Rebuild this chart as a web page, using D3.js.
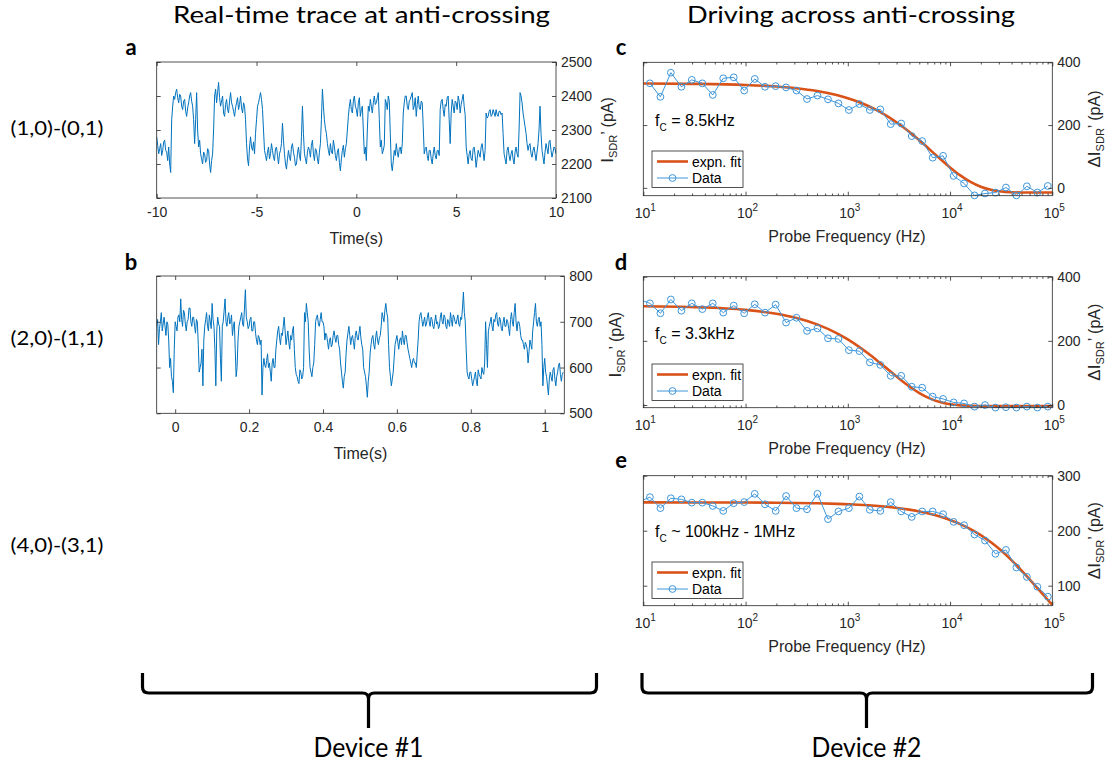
<!DOCTYPE html>
<html><head><meta charset="utf-8">
<script src="https://cdn.jsdelivr.net/npm/d3@7"></script>
<style>body{margin:0;background:#fff}svg{display:block}</style>
</head><body>
<script>
// ---------------- DATA ----------------
// Panel a: real-time trace, sampled every 0.05 s from -10 s (one row = 1 s)
const traceA_t0 = -10, traceA_dt = 0.05;
const traceA = [
2280,2255,2230,2245,2260,2225,2240,2265,2270,2240,2235,2210,2250,2200,2175,2330,2370,2400,2390,2410,
2420,2395,2380,2405,2400,2370,2360,2385,2390,2355,2340,2365,2380,2400,2410,2385,2370,2330,2260,2330,
2410,2300,2250,2270,2230,2215,2200,2235,2230,2205,2210,2245,2240,2200,2175,2210,2230,2300,2400,2420,
2380,2410,2440,2395,2370,2385,2400,2350,2340,2375,2390,2360,2350,2385,2410,2380,2370,2355,2340,2365,
2380,2395,2360,2375,2400,2365,2350,2380,2370,2330,2260,2215,2195,2250,2280,2250,2240,2265,2230,2290,
2330,2370,2380,2395,2410,2390,2360,2300,2240,2225,2210,2235,2250,2215,2230,2260,2240,2220,2210,2245,
2250,2225,2200,2230,2240,2260,2320,2270,2230,2200,2185,2215,2240,2220,2210,2250,2260,2235,2220,2195,
2200,2230,2250,2225,2210,2280,2370,2290,2230,2215,2200,2235,2250,2240,2220,2255,2270,2230,2210,2245,
2240,2215,2200,2235,2260,2330,2420,2370,2330,2305,2290,2260,2240,2225,2260,2235,2230,2270,2250,2225,
2210,2235,2245,2205,2180,2215,2240,2255,2220,2245,2260,2300,2340,2370,2390,2360,2350,2385,2400,2370,
2360,2340,2380,2395,2340,2360,2370,2300,2230,2250,2210,2300,2370,2355,2390,2370,2350,2380,2400,2375,
2380,2395,2410,2330,2250,2270,2230,2240,2255,2390,2380,2360,2400,2385,2290,2200,2180,2210,2240,2225,
2260,2235,2220,2245,2250,2230,2260,2350,2380,2400,2400,2370,2360,2385,2390,2400,2410,2360,2370,2395,
2340,2375,2400,2365,2360,2385,2380,2310,2230,2245,2250,2225,2210,2240,2240,2215,2200,2230,2250,2225,
2215,2240,2240,2225,2360,2385,2390,2360,2340,2375,2370,2395,2400,2330,2260,2350,2390,2370,2350,2385,
2380,2360,2400,2385,2350,2375,2390,2405,2370,2345,2250,2225,2200,2230,2240,2215,2210,2245,2250,2225,
2190,2215,2240,2230,2220,2250,2260,2235,2210,2240,2350,2335,2340,2355,2360,2340,2345,2360,2350,2340,
2360,2345,2340,2355,2355,2345,2350,2290,2230,2215,2200,2240,2250,2225,2210,2230,2240,2215,2200,2235,
2250,2230,2220,2300,2410,2400,2380,2350,2330,2310,2290,2260,2240,2255,2260,2230,2220,2240,2250,2230,
2210,2235,2260,2300,2370,2290,2240,2220,2200,2235,2260,2245,2230,2265,2270,2240,2220,2235,2250,2245,
2230];
// Panel b: real-time trace, sampled every 0.0025 s from -0.05 s (one row = 0.05 s)
const traceB_t0 = -0.05, traceB_dt = 0.0025;
const traceB = [
690,705,650,685,700,720,680,695,710,690,670,700,695,660,600,620,580,570,545,640,
700,690,680,710,715,700,750,705,690,725,720,695,680,700,705,730,730,700,690,710,
710,690,675,705,700,650,590,600,610,640,560,660,690,705,720,690,680,715,700,685,
740,705,690,640,560,680,710,695,690,620,570,690,700,725,750,700,690,710,720,695,
700,715,670,690,700,640,580,600,660,690,700,710,720,695,690,730,770,710,700,685,
690,705,710,680,680,700,700,675,660,650,670,665,650,660,540,600,620,605,600,615,
630,600,610,590,570,610,620,600,600,640,660,680,690,665,650,675,670,690,710,680,
650,665,680,655,640,670,660,680,690,640,600,585,580,570,565,595,590,575,580,600,
720,700,740,720,700,640,600,590,580,600,610,650,700,710,715,695,690,705,720,700,
700,690,660,675,670,655,640,660,665,645,650,670,680,665,655,670,670,650,640,610,
590,570,555,580,590,630,660,675,690,670,650,665,670,655,640,670,680,665,660,675,
690,665,650,640,600,590,580,560,535,570,590,630,650,665,670,650,640,665,680,660,
650,665,670,690,720,710,700,725,740,720,710,650,600,580,560,575,590,620,650,660,
670,655,640,660,665,650,680,660,650,670,670,655,640,630,620,610,600,615,620,610,
610,600,630,660,700,715,720,705,690,700,710,690,695,710,720,700,690,710,705,690,
685,700,715,695,700,685,690,710,720,700,695,715,710,690,685,705,700,690,720,705,
690,715,710,700,695,705,715,695,690,710,705,730,765,720,700,640,590,580,575,590,
590,575,560,570,580,590,570,560,595,585,580,575,600,590,585,610,700,650,600,680,
690,700,710,690,680,705,700,715,720,695,690,710,705,685,680,700,710,690,690,705,
700,685,670,705,720,700,690,720,740,700,680,700,700,690,670,660,660,650,640,655,
650,640,610,635,660,650,640,680,700,720,740,700,690,705,710,690,700,650,560,600,
620,590,580,560,540,575,590,580,570,595,600,575,560,580,590,605,610,585,570,585,
590];
const timeTicksA = [-10, -5, 0, 5, 10];
const currentTicksA = [2100, 2200, 2300, 2400, 2500];
const timeTicksB = [0, 0.2, 0.4, 0.6, 0.8, 1];
const currentTicksB = [500, 600, 700, 800];

// Panels c-e: probe frequency sweep (Hz)
const probeFreq = [11.6,14.7,18.6,23.6,29.8,37.8,47.8,60.5,76.6,97,
  123,155,197,249,315,399,505,640,810,1025,
  1298,1642,2080,2630,3330,4220,5340,6760,8550,10830,
  13710,17350,21970,27800,35200,44570,56400,71400,90400];
const probeFreqLead = 9.2; // point just left of the axis in d and e
const dataC = [333,290,367,322,344,333,296,349,352,310,
  347,322,324,320,310,283,294,282,269,248,
  267,248,250,203,205,165,149,96,102,38,
  14,-24,-18,-15,1,-24,5,-15,6];
const dataD = [329,317,286,329,294,317,299,317,288,310,
  286,314,288,313,257,272,231,239,208,206,
  171,168,133,125,91,91,57,54,26,19,
  8,5,-5,0,-8,-7,-8,-5,-8,-5];
const dataE = [253,261,241,259,257,251,251,245,236,250,
  252,267,248,236,263,241,239,267,221,235,
  241,262,238,236,252,235,225,235,235,230,
  216,210,193,182,158,165,133,116,98,80];
// fitted curves read at these frequencies
const fitFreq = [10,31.6,100,200,316,501,794,1000,1259,1585,1995,2512,3162,3981,
  5012,6310,7943,10000,12589,15849,19953,25119,31623,39811,50119,63096,79433,100000];
const fitC = [332.5,331.4,327.9,322.9,317.2,308.3,294.7,285.4,274.2,260.6,244.5,225.5,203.6,178.8,
  151.5,122.6,93.2,65.0,39.6,18.8,3.5,-6.3,-11.7,-14.0,-14.8,-15,-15,-15];
const fitD = [307.7,305.0,296.5,284.5,271.2,251.3,222.6,204.4,183.6,160.4,135.2,108.9,82.8,58.5,
  37.3,20.7,9.2,2.3,-1.2,-2.5,-2.9,-3,-3,-3,-3,-3,-3,-3];
const fitE = [251.5,251.4,251.2,250.8,250.4,249.8,248.8,248.1,247.3,246.2,244.8,243.1,240.9,238.3,
  234.9,230.9,225.8,219.6,212.0,202.9,192.0,179.0,163.9,146.6,127.5,107.0,85.8,64.9];
const freqTicks = [10, 100, 1000, 10000, 100000];
const dITicksC = [0, 200, 400];
const dITicksD = [0, 200, 400];
const dITicksE = [100, 200, 300];
const fcLabels = ["= 8.5kHz", "= 3.3kHz", "~ 100kHz - 1MHz"];
const legendLabels = ["expn. fit", "Data"];
const titles = ["Real-time trace at anti-crossing", "Driving across anti-crossing"];
const rowLabels = ["(1,0)-(0,1)", "(2,0)-(1,1)", "(4,0)-(3,1)"];
const deviceLabels = ["Device #1", "Device #2"];
const panelLetters = ["a", "b", "c", "d", "e"];

// ---------------- DRAWING ----------------
const AX = '#262626', TRACE = '#0072BD', DATA = '#3E96DA', FIT = '#D95319';
const SANS = '"Liberation Sans", Arial, Helvetica, sans-serif';
const CAL = 'Lato, "Open Sans", sans-serif';
const svg = d3.select('body').append('svg').attr('width', 1113).attr('height', 765);
const defs = svg.append('defs');
let clipN = 0;
function clipRect(x0, y0, w, h) {
  const id = 'cl' + (clipN++);
  defs.append('clipPath').attr('id', id).append('rect').attr('x', x0).attr('y', y0).attr('width', w).attr('height', h);
  return `url(#${id})`;
}
function styleAxis(g) {
  g.attr('font-family', SANS).attr('font-size', 14);
  g.select('.domain').remove();
  g.selectAll('line').attr('stroke', AX).attr('stroke-width', 0.8);
  g.selectAll('text').attr('fill', AX);
}
function frame(x, y) {
  const [x0, x1] = x.range(), [yb, yt] = y.range();
  svg.append('rect').attr('x', x0).attr('y', yt).attr('width', x1 - x0).attr('height', yb - yt)
    .attr('fill', 'none').attr('stroke', AX).attr('stroke-width', 0.8);
}
function yLabel(xpos, ycen, delta) {
  const t = svg.append('text').attr('transform', `translate(${xpos},${ycen}) rotate(-90)`)
    .attr('text-anchor', 'middle').attr('font-family', SANS).attr('font-size', 16).attr('fill', AX);
  t.append('tspan').attr('font-size', 17).text(delta ? '\u0394I' : 'I');
  t.append('tspan').attr('font-size', 11).attr('dy', 4).text('SDR');
  t.append('tspan').attr('dy', -4).text('\u2019 (pA)');
}
function xLabel(txt, xcen, ybase) {
  svg.append('text').attr('x', xcen).attr('y', ybase).attr('text-anchor', 'middle')
    .attr('font-family', SANS).attr('font-size', 16).attr('fill', AX).text(txt);
}

function tracePanel(vals, t0, dt, xd, xr, yd, yr, xt, yt) {
  const x = d3.scaleLinear(xd, xr), y = d3.scaleLinear(yd, yr);
  svg.append('path').datum(vals)
    .attr('clip-path', clipRect(xr[0], yr[1], xr[1] - xr[0], yr[0] - yr[1]))
    .attr('d', d3.line().x((d, i) => x(t0 + i * dt)).y(d => y(d)))
    .attr('fill', 'none').attr('stroke', TRACE).attr('stroke-width', 1).attr('stroke-linejoin', 'round');
  svg.append('g').attr('transform', `translate(0,${yr[0]})`)
    .call(d3.axisBottom(x).tickValues(xt).tickSize(-4).tickPadding(9).tickFormat(d => String(d))).call(styleAxis);
  svg.append('g').attr('transform', `translate(0,${yr[1]})`)
    .call(d3.axisTop(x).tickValues(xt).tickSize(-4).tickFormat('')).call(styleAxis);
  svg.append('g').attr('transform', `translate(${xr[1]},0)`)
    .call(d3.axisRight(y).tickValues(yt).tickSize(-4).tickPadding(5).tickFormat(d => String(d))).call(styleAxis);
  svg.append('g').attr('transform', `translate(${xr[0]},0)`)
    .call(d3.axisLeft(y).tickValues(yt).tickSize(-4).tickFormat('')).call(styleAxis);
  frame(x, y);
  yLabel(xr[1] + 57, (yr[0] + yr[1]) / 2, false);
  xLabel('Time(s)', (xr[0] + xr[1]) / 2, yr[0] + 46);
}

function freqPanel(freqs, vals, fitV, yd, yr, yt, fcText, legY) {
  const xr = [643.3, 1052.3];
  const x = d3.scaleLog([10, 1e5], xr), y = d3.scaleLinear(yd, yr);
  const cp = clipRect(xr[0], yr[1], xr[1] - xr[0], yr[0] - yr[1]);
  const pts = freqs.map((f, i) => [f, vals[i]]);
  svg.append('path').datum(fitFreq.map((f, i) => [f, fitV[i]])).attr('clip-path', cp)
    .attr('d', d3.line().x(d => x(d[0])).y(d => y(d[1])).curve(d3.curveMonotoneX))
    .attr('fill', 'none').attr('stroke', FIT).attr('stroke-width', 2.6);
  const dg = svg.append('g').attr('clip-path', clipRect(xr[0], yr[1] - 6, xr[1] - xr[0] + 6, yr[0] - yr[1] + 12));
  dg.append('path').datum(pts).attr('d', d3.line().x(d => x(d[0])).y(d => y(d[1])))
    .attr('fill', 'none').attr('stroke', DATA).attr('stroke-width', 1);
  dg.selectAll('circle').data(pts.filter(d => d[0] >= 10)).join('circle')
    .attr('cx', d => x(d[0])).attr('cy', d => y(d[1])).attr('r', 3.4)
    .attr('fill', 'none').attr('stroke', DATA).attr('stroke-width', 1);
  const minors = [];
  for (let k = 1; k < 5; k++) for (let m = 2; m < 10; m++) minors.push(m * Math.pow(10, k));
  svg.append('g').attr('transform', `translate(0,${yr[0]})`)
    .call(d3.axisBottom(x).tickValues(freqTicks).tickSize(-4).tickFormat('')).call(styleAxis);
  svg.append('g').attr('transform', `translate(0,${yr[0]})`)
    .call(d3.axisBottom(x).tickValues(minors).tickSize(-2.2).tickFormat('')).call(styleAxis);
  svg.append('g').attr('transform', `translate(0,${yr[1]})`)
    .call(d3.axisTop(x).tickValues(freqTicks).tickSize(-4).tickFormat('')).call(styleAxis);
  svg.append('g').attr('transform', `translate(0,${yr[1]})`)
    .call(d3.axisTop(x).tickValues(minors).tickSize(-2.2).tickFormat('')).call(styleAxis);
  svg.append('g').attr('transform', `translate(${xr[1]},0)`)
    .call(d3.axisRight(y).tickValues(yt).tickSize(-4).tickPadding(5).tickFormat(d => String(d))).call(styleAxis);
  svg.append('g').attr('transform', `translate(${xr[0]},0)`)
    .call(d3.axisLeft(y).tickValues(yt).tickSize(-4).tickFormat('')).call(styleAxis);
  freqTicks.forEach(v => {
    const t = svg.append('text').attr('x', x(v) + 2).attr('y', yr[0] + 22).attr('text-anchor', 'middle')
      .attr('font-family', SANS).attr('font-size', 14).attr('fill', AX);
    t.append('tspan').text('10');
    t.append('tspan').attr('font-size', 10).attr('dy', -7).text(String(Math.round(Math.log10(v))));
  });
  frame(x, y);
  yLabel(xr[1] + 48, (yr[0] + yr[1]) / 2, true);
  xLabel('Probe Frequency (Hz)', 847, yr[0] + 46);
  const ft = svg.append('text').attr('x', 655).attr('y', legY - 25).attr('font-family', SANS)
    .attr('font-size', 16).attr('fill', '#000');
  ft.append('tspan').text('f');
  ft.append('tspan').attr('font-size', 10).attr('dy', 5).text('C');
  ft.append('tspan').attr('dy', -5).text(' ' + fcText);
  const lg = svg.append('g').attr('transform', `translate(652,${legY})`);
  lg.append('rect').attr('width', 91).attr('height', 36.5).attr('fill', '#fff').attr('stroke', AX).attr('stroke-width', 0.8);
  lg.append('line').attr('x1', 5).attr('x2', 36).attr('y1', 10.5).attr('y2', 10.5).attr('stroke', FIT).attr('stroke-width', 2.6);
  lg.append('line').attr('x1', 5).attr('x2', 36).attr('y1', 27).attr('y2', 27).attr('stroke', DATA).attr('stroke-width', 1);
  lg.append('circle').attr('cx', 20.5).attr('cy', 27).attr('r', 3.4).attr('fill', 'none').attr('stroke', DATA);
  legendLabels.forEach((s, i) => lg.append('text').attr('x', 40).attr('y', 15.5 + i * 16.5)
    .attr('font-family', SANS).attr('font-size', 14).attr('fill', '#000').text(s));
}

tracePanel(traceA, traceA_t0, traceA_dt, [-10, 10], [156.7, 556], [2100, 2500], [198, 62], timeTicksA, currentTicksA);
tracePanel(traceB, traceB_t0, traceB_dt, [-0.05, 1.053], [156.7, 564.3], [500, 800], [413.3, 276], timeTicksB, currentTicksB);
freqPanel(probeFreq, dataC, fitC, [-25, 400], [195.7, 62.3], dITicksC, fcLabels[0], 151);
freqPanel([probeFreqLead].concat(probeFreq), dataD, fitD, [-8.4, 400], [407.7, 276.7], dITicksD, fcLabels[1], 364);
freqPanel([probeFreqLead].concat(probeFreq), dataE, fitE, [63.6, 300], [605.7, 475.7], dITicksE, fcLabels[2], 562);

const titlePos = [[361.5, 23, 377], [851, 23, 328]];
titles.forEach((s, i) => svg.append('text').attr('x', titlePos[i][0]).attr('y', titlePos[i][1])
  .attr('text-anchor', 'middle').attr('font-family', CAL).attr('font-size', 24).attr('fill', '#000')
  .attr('textLength', titlePos[i][2]).attr('lengthAdjust', 'spacingAndGlyphs').text(s));
const rowY = [135, 345, 552];
rowLabels.forEach((s, i) => svg.append('text').attr('x', 57).attr('y', rowY[i]).attr('text-anchor', 'middle')
  .attr('font-family', CAL).attr('font-size', 20).attr('fill', '#000')
  .attr('textLength', 93).attr('lengthAdjust', 'spacingAndGlyphs').text(s));
const letterPos = [[131, 55], [131, 270], [621, 55], [621, 270], [621, 468]];
panelLetters.forEach((s, i) => svg.append('text').attr('x', letterPos[i][0]).attr('y', letterPos[i][1])
  .attr('text-anchor', 'middle').attr('font-family', CAL).attr('font-weight', 'bold').attr('font-size', 22)
  .attr('fill', '#000').text(s));

function brace(x1, x2, cx) {
  const y0 = 673, y1 = 693, y2 = 728, r = 6;
  const p = `M${x1},${y0} L${x1},${y1 - r} Q${x1},${y1} ${x1 + r},${y1} L${cx - r},${y1} Q${cx},${y1} ${cx},${y1 + r} L${cx},${y2}` +
    ` M${cx},${y1 + r} Q${cx},${y1} ${cx + r},${y1} L${x2 - r},${y1} Q${x2},${y1} ${x2},${y1 - r} L${x2},${y0}`;
  svg.append('path').attr('d', p).attr('fill', 'none').attr('stroke', '#000').attr('stroke-width', 3.2);
}
brace(142.5, 596.5, 368.5);
brace(642, 1092.5, 866.5);
const devX = [368.5, 866.5];
deviceLabels.forEach((s, i) => svg.append('text').attr('x', devX[i]).attr('y', 757).attr('text-anchor', 'middle')
  .attr('font-family', CAL).attr('font-size', 26).attr('fill', '#000')
  .attr('textLength', 110).attr('lengthAdjust', 'spacingAndGlyphs').text(s));
</script>
</body></html>
